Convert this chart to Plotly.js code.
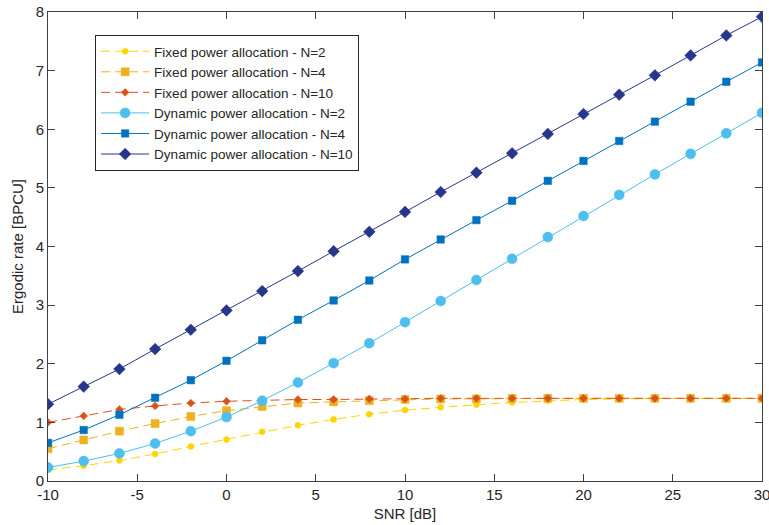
<!DOCTYPE html>
<html>
<head>
<meta charset="utf-8">
<script src="https://cdn.plot.ly/plotly-3.0.1.min.js"></script>
<style>
  html, body { margin: 0; padding: 0; background: #ffffff; }
  #chart { width: 769px; height: 525px; }
</style>
</head>
<body>
<div id="chart"></div>
<script>
// SNR sweep in dB
const snr = [-10, -8, -6, -4, -2, 0, 2, 4, 6, 8, 10, 12, 14, 16, 18, 20, 22, 24, 26, 28, 30];

// Ergodic rate [BPCU], fixed power allocation
const fixedN2  = [0.19, 0.26, 0.35, 0.46, 0.59, 0.71, 0.84, 0.95, 1.05, 1.14, 1.21, 1.26, 1.30, 1.34, 1.37, 1.39, 1.40, 1.41, 1.41, 1.41, 1.41];
const fixedN4  = [0.55, 0.70, 0.85, 0.98, 1.10, 1.20, 1.27, 1.33, 1.35, 1.37, 1.39, 1.40, 1.40, 1.41, 1.41, 1.41, 1.41, 1.41, 1.41, 1.41, 1.41];
const fixedN10 = [1.00, 1.11, 1.22, 1.28, 1.33, 1.36, 1.38, 1.39, 1.39, 1.40, 1.40, 1.41, 1.41, 1.41, 1.41, 1.41, 1.41, 1.41, 1.41, 1.41, 1.41];

// Ergodic rate [BPCU], dynamic power allocation
const dynN2  = [0.23, 0.34, 0.47, 0.64, 0.85, 1.09, 1.37, 1.68, 2.01, 2.35, 2.71, 3.07, 3.43, 3.79, 4.16, 4.52, 4.88, 5.23, 5.58, 5.93, 6.28];
const dynN4  = [0.65, 0.87, 1.13, 1.42, 1.72, 2.05, 2.40, 2.75, 3.08, 3.42, 3.78, 4.12, 4.45, 4.78, 5.12, 5.46, 5.80, 6.13, 6.47, 6.81, 7.14];
const dynN10 = [1.31, 1.61, 1.91, 2.25, 2.58, 2.91, 3.24, 3.58, 3.92, 4.25, 4.59, 4.93, 5.26, 5.59, 5.92, 6.26, 6.59, 6.92, 7.26, 7.60, 7.92];

const seriesNames = [
  'Fixed power allocation - N=2',
  'Fixed power allocation - N=4',
  'Fixed power allocation - N=10',
  'Dynamic power allocation - N=2',
  'Dynamic power allocation - N=4',
  'Dynamic power allocation - N=10'
];

// Axis ticks (plain hyphen for negative numbers)
const xTickVals = [-10, -5, 0, 5, 10, 15, 20, 25, 30];
const xTickText = ['-10', '-5', '0', '5', '10', '15', '20', '25', '30'];
const yTickVals = [0, 1, 2, 3, 4, 5, 6, 7, 8];
const yTickText = ['0', '1', '2', '3', '4', '5', '6', '7', '8'];

const dashPattern = '9px,5px';

function series(y, name, color, dash, symbol, size) {
  return {
    x: snr, y: y, name: name, type: 'scatter', mode: 'lines+markers',
    line: { color: color, width: 1, dash: dash },
    marker: { color: color, symbol: symbol, size: size, line: { color: color, width: 0.5 } }
  };
}

const traces = [
  series(fixedN2,  seriesNames[0], '#FFD400', dashPattern, 'circle', 6),
  series(fixedN4,  seriesNames[1], '#EDB120', dashPattern, 'square', 8),
  series(fixedN10, seriesNames[2], '#D95319', dashPattern, 'diamond', 6),
  series(dynN2,    seriesNames[3], '#4DBEEE', 'solid', 'circle', 10),
  series(dynN4,    seriesNames[4], '#0072BD', 'solid', 'square', 7.5),
  series(dynN10,   seriesNames[5], '#27358A', 'solid', 'diamond', 9)
];

const axisColor = '#404040';
const textColor = '#262626';
const baseFont = 'Liberation Sans, Arial, Helvetica, sans-serif';

const layout = {
  width: 769, height: 525,
  margin: { l: 48, r: 7, t: 12, b: 44 },
  paper_bgcolor: '#ffffff', plot_bgcolor: '#ffffff',
  font: { family: baseFont, size: 15, color: textColor },
  showlegend: true,
  legend: {
    x: 0.066, y: 0.951, xanchor: 'left', yanchor: 'top',
    bgcolor: '#ffffff', bordercolor: '#262626', borderwidth: 1,
    font: { family: baseFont, size: 13.5, color: textColor },
    itemwidth: 48, tracegroupgap: 0
  },
  xaxis: {
    range: [-10, 30], tickmode: 'array', tickvals: xTickVals, ticktext: xTickText,
    ticklabeloverflow: 'allow',
    showgrid: false, zeroline: false,
    showline: true, linecolor: axisColor, linewidth: 1, mirror: 'ticks',
    ticks: 'inside', ticklen: 7, tickcolor: axisColor,
    tickfont: { size: 15, color: textColor },
    title: { text: 'SNR [dB]', font: { size: 15, color: textColor }, standoff: 6 }
  },
  yaxis: {
    range: [0, 8], tickmode: 'array', tickvals: yTickVals, ticktext: yTickText,
    ticklabeloverflow: 'allow',
    showgrid: false, zeroline: false,
    showline: true, linecolor: axisColor, linewidth: 1, mirror: 'ticks',
    ticks: 'inside', ticklen: 7, tickcolor: axisColor,
    tickfont: { size: 15, color: textColor },
    title: { text: 'Ergodic rate [BPCU]', font: { size: 15, color: textColor }, standoff: 8 }
  }
};

Plotly.newPlot('chart', traces, layout, { displayModeBar: false, staticPlot: true });
</script>
</body>
</html>
